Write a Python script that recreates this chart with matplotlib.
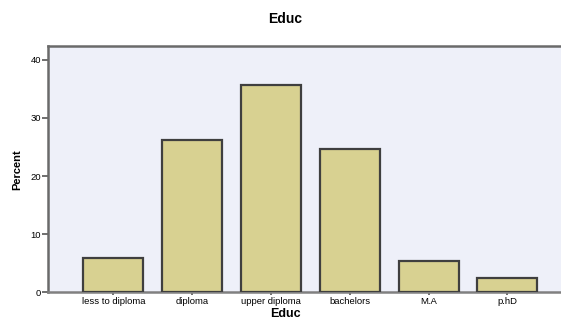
import matplotlib
matplotlib.use("Agg")
import matplotlib.pyplot as plt

categories = ["less to diploma", "diploma", "upper diploma", "bachelors", "M.A", "p.hD"]
percent = [6.0, 26.2, 35.7, 24.6, 5.4, 2.5]
y_ticks = [0, 10, 20, 30, 40]

plt.rcParams["font.family"] = ["Liberation Sans", "DejaVu Sans"]

fig = plt.figure(figsize=(5.61, 3.21), dpi=100)
ax = fig.add_axes([0.0856, 0.0888, 0.9144, 0.7679])
ax.set_facecolor("#EEF0F9")

x = list(range(len(categories)))
ax.bar(x, percent, width=0.76, color="#D8D191", edgecolor="#3F3F3F", linewidth=1.6, zorder=3)

ax.set_xlim(-0.83, 5.68)
ax.set_ylim(0, 42.35)
ax.set_xticks(x)
ax.set_xticklabels(categories, fontsize=6.8)
ax.set_yticks(y_ticks)
ax.set_yticklabels([str(v) for v in y_ticks], fontsize=6.8)

ax.tick_params(axis="y", direction="out", length=4, width=1.2, color="#555555", pad=1)
ax.tick_params(axis="x", direction="inout", length=5, width=1.2, color="#555555", pad=1)

for side in ("left", "top", "bottom"):
    ax.spines[side].set_color("#6A6A6A")
    ax.spines[side].set_linewidth(1.8)
ax.spines["right"].set_visible(False)
ax.spines["bottom"].set_color("#808080")

ax.set_ylabel("Percent", fontsize=8, fontweight="bold", labelpad=6)
fig.text(0.508, 0.022, "Educ", ha="center", va="center", fontsize=9, fontweight="bold")
fig.text(0.508, 0.94, "Educ", ha="center", va="center", fontsize=10, fontweight="bold")

fig.savefig("out.png", dpi=100)
